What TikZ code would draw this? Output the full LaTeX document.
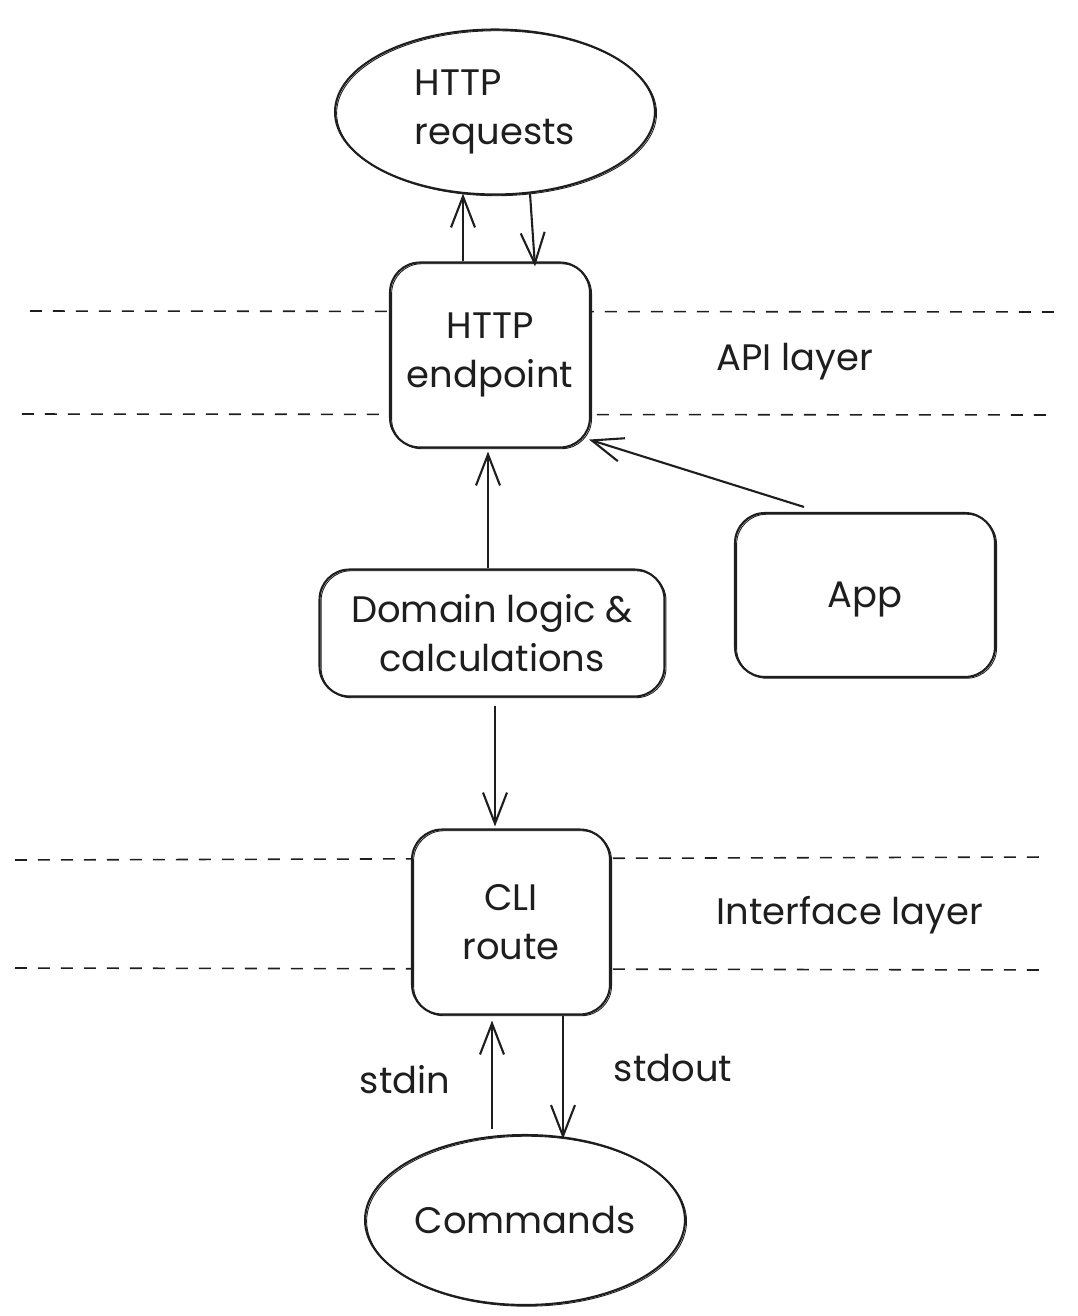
\documentclass[tikz,border=0pt]{standalone}
\usepackage{fontspec}
\setmainfont{Poppins}
\usetikzlibrary{arrows.meta,calc,shapes.geometric}
\definecolor{inkc}{HTML}{1E1E1E}
\begin{document}
\begin{tikzpicture}[x=0.02cm,y=-0.02cm,
  ink/.style={draw=inkc, line width=1.2pt},
  sketch/.style={postaction={draw=inkc, line width=0.5pt, transform canvas={shift={(0.9pt,-0.7pt)}}}},
  txt/.style={font=\fontsize{21}{27.5}\selectfont, text=inkc},
  blob/.style={ink, sketch, txt, ellipse, fill=white, inner sep=0pt, align=left},
  card/.style={ink, sketch, txt, rounded corners=0.6cm, fill=white, inner sep=0pt, align=center},
  layer/.style={draw=inkc, line width=0.9pt, dash pattern=on 0.24cm off 0.22cm},
  arr/.style={ink, -{Straight Barb[length=0.62cm,width=0.48cm,line width=1.2pt]}},
  lbl/.style={txt}
]
\useasboundingbox (0,0) rectangle (1078,1316);

% layer boundaries
\draw[layer] (30,311) -- (1060,312);
\draw[layer] (22,414) -- (1055,415);
\draw[layer] (15,860) -- (1048,857);
\draw[layer] (15,968) -- (1048,970);

% nodes
\node[blob, minimum width=6.4cm, minimum height=3.3cm] (req) at (495,112) {HTTP\\requests};
\node[card, minimum width=4cm, minimum height=3.7cm] (ep) at (490,355) {HTTP\\endpoint};
\node[card, minimum width=5.2cm, minimum height=3.28cm, text depth=0pt] (app) at (865,595) {App};
\node[card, minimum width=6.9cm, minimum height=2.54cm] (dom) at (492,633) {Domain logic \&\\calculations};
\node[card, minimum width=3.96cm, minimum height=3.7cm] (cli) at (511,922) {CLI\\route};
\node[blob, minimum width=6.4cm, minimum height=3.4cm] (cmd) at (525,1220) {Commands};

% layer names and stream labels
\node[lbl] (apil) at (795,362) {API layer};
\node[lbl] (ifl) at (850,915) {Interface layer};
\node[lbl] (inl) at (405,1080) {stdin};
\node[lbl] (outl) at (673,1068) {stdout};

% connectors
\draw[arr] ($(ep.north)+(-27,0)$) -- ($(req.south)+(-32,-2)$);
\draw[arr] ($(req.south)+(35,-2)$) -- ($(ep.north)+(45,5)$);
\draw[arr] ($(app.north west)+(70,-5)$) -- ($(ep.south east)+(-2,-9)$);
\draw[arr] ($(dom.north)+(-4,0)$) -- ($(ep.south)+(-2,3)$);
\draw[arr] ($(dom.south)+(3,8)$) -- ($(cli.north)+(-16,-2)$);
\draw[arr] ($(cmd.north)+(-33,-5)$) -- ($(cli.south)+(-19,5)$);
\draw[arr] ($(cli.south)+(52,0)$) -- ($(cmd.north)+(38,5)$);
\end{tikzpicture}
\end{document}
